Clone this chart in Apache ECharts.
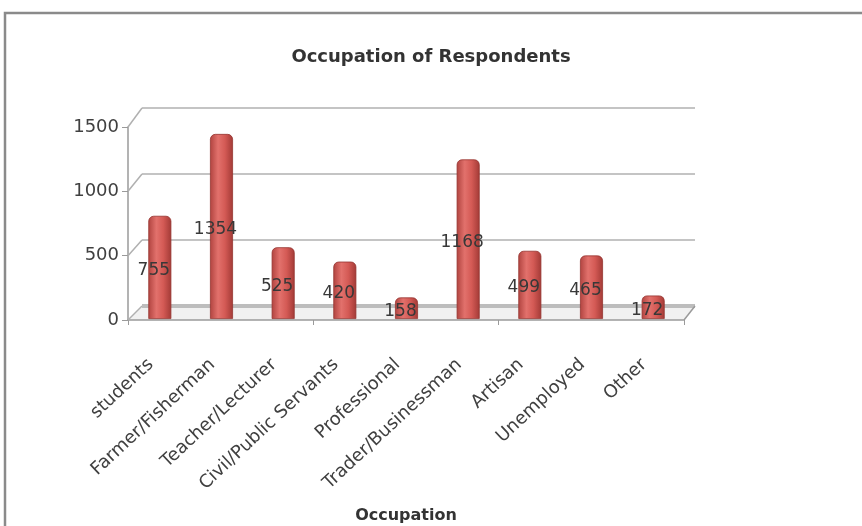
<!DOCTYPE html>
<html>
<head>
<meta charset="utf-8">
<title>Occupation of Respondents</title>
<script src="https://cdn.jsdelivr.net/npm/echarts@6/dist/echarts.min.js"></script>
<style>
  html, body { margin: 0; padding: 0; background: #ffffff; }
  #chart { width: 862px; height: 526px; }
</style>
</head>
<body>
<div id="chart"></div>
<script>
// Occupation categories and respondent counts
const categories = [
  'students', 'Farmer/Fisherman', 'Teacher/Lecturer', 'Civil/Public Servants',
  'Professional', 'Trader/Businessman', 'Artisan', 'Unemployed', 'Other'
];
const respondents = [755, 1354, 525, 420, 158, 1168, 499, 465, 172];
const yTicks = [0, 500, 1000, 1500];

const FONT = '"DejaVu Sans", "Noto Sans", sans-serif';
const TEXT = '#404040';

// back wall, bar plane, front axis plane and category-label plane of the pseudo-3D frame
const wallGrid = { left: 142, right: 167, top: 108, bottom: 220 };
const barGrid = { left: 129, right: 178, top: 114, bottom: 207 };
const frontGrid = { left: 128, right: 178, top: 127, bottom: 206 };
const labelGrid = { left: 120, right: 187, top: 127, bottom: 206 };

const cylinder = new echarts.graphic.LinearGradient(0, 0, 1, 0, [
  { offset: 0, color: '#b0433f' },
  { offset: 0.35, color: '#e2716c' },
  { offset: 0.65, color: '#d45a55' },
  { offset: 1, color: '#a23a36' }
]);

const chart = echarts.init(document.getElementById('chart'));

chart.setOption({
  animation: false,
  backgroundColor: '#ffffff',
  title: {
    text: 'Occupation of Respondents',
    left: 'center',
    top: 43,
    textStyle: { fontFamily: FONT, fontSize: 18, fontWeight: 'bold', color: '#333' }
  },
  grid: [
    Object.assign({}, wallGrid),
    Object.assign({}, barGrid),
    Object.assign({}, frontGrid),
    Object.assign({}, labelGrid)
  ],
  xAxis: [
    { gridIndex: 0, type: 'value', min: 0, max: 1, show: false },
    { gridIndex: 1, type: 'category', data: categories, show: false },
    {
      gridIndex: 2,
      type: 'category',
      data: categories,
      boundaryGap: true,
      axisLine: { show: true, lineStyle: { color: '#9a9a9a', width: 1.5 } },
      axisTick: { show: true, length: 5, lineStyle: { color: '#9a9a9a' } },
      axisLabel: { show: false },
      name: 'Occupation',
      nameLocation: 'middle',
      nameGap: 188,
      nameTextStyle: { fontFamily: FONT, fontSize: 16, fontWeight: 'bold', color: '#333' }
    },
    {
      gridIndex: 3,
      type: 'category',
      data: categories,
      axisLine: { show: false },
      axisTick: { show: false },
      axisLabel: {
        interval: 0,
        rotate: 43,
        margin: 42,
        fontFamily: FONT,
        fontSize: 18,
        color: TEXT
      }
    }
  ],
  yAxis: [
    {
      gridIndex: 0, type: 'value', min: 0, max: 1500, interval: 500,
      axisLine: { show: false }, axisTick: { show: false }, axisLabel: { show: false },
      splitLine: { show: true, lineStyle: { color: '#b0b0b0', width: 1.5 } }
    },
    {
      gridIndex: 1, type: 'value', min: 0, max: 1500, interval: 500, show: false,
      splitLine: { show: false }
    },
    {
      gridIndex: 2, type: 'value', min: 0, max: 1500, interval: 500,
      axisLine: { show: true, lineStyle: { color: '#9a9a9a', width: 1.5 } },
      axisTick: { show: true, inside: false, length: 6, lineStyle: { color: '#9a9a9a' } },
      axisLabel: {
        margin: 9,
        fontFamily: FONT,
        fontSize: 18,
        color: TEXT,
        formatter: function (v) { return yTicks.indexOf(v) >= 0 ? String(v) : ''; }
      },
      splitLine: { show: false }
    },
    { gridIndex: 3, type: 'value', min: 0, max: 1500, show: false }
  ],
  series: [
    {
      type: 'bar',
      xAxisIndex: 1,
      yAxisIndex: 1,
      data: respondents,
      barWidth: 23,
      itemStyle: {
        color: cylinder,
        borderColor: '#963330',
        borderWidth: 0.8,
        borderRadius: [5, 5, 0, 0]
      },
      label: {
        show: true,
        position: 'inside',
        offset: [-6, 3],
        fontFamily: FONT,
        fontSize: 17,
        color: '#383838'
      },
      z: 5
    }
  ]
});

// perspective edges joining the front axis to the back wall, plus the floor and frame
function drawFrame() {
  const W = chart.getWidth();
  const H = chart.getHeight();
  const frontLeft = frontGrid.left;
  const backLeft = wallGrid.left;
  const frontRight = W - frontGrid.right;
  const backRight = W - wallGrid.right;
  const elements = [];

  yTicks.forEach(function (v) {
    const fy = chart.convertToPixel({ yAxisIndex: 2 }, v);
    const by = chart.convertToPixel({ yAxisIndex: 0 }, v);
    elements.push({
      type: 'line',
      shape: { x1: frontLeft, y1: fy, x2: backLeft, y2: by },
      style: { stroke: '#b0b0b0', lineWidth: 1.5 },
      z: 1
    });
  });

  const f0 = chart.convertToPixel({ yAxisIndex: 2 }, 0);
  const b0 = chart.convertToPixel({ yAxisIndex: 0 }, 0);
  elements.push({
    type: 'polygon',
    shape: { points: [[frontLeft, f0], [frontRight, f0], [backRight, b0], [backLeft, b0]] },
    style: { fill: '#f1f1f1', stroke: null },
    z: 0
  });
  elements.push({
    type: 'line',
    shape: { x1: backLeft, y1: b0, x2: backRight, y2: b0 },
    style: { stroke: '#bdbdbd', lineWidth: 4 },
    z: 1
  });
  elements.push({
    type: 'line',
    shape: { x1: frontRight, y1: f0, x2: backRight, y2: b0 },
    style: { stroke: '#9a9a9a', lineWidth: 1.5 },
    z: 1
  });
  elements.push({
    type: 'rect',
    shape: { x: 5, y: 13, width: W + 20, height: H + 20 },
    style: { fill: null, stroke: '#8a8a8a', lineWidth: 2.5 },
    silent: true,
    z: 10
  });

  chart.setOption({ graphic: elements });
}

drawFrame();
</script>
</body>
</html>
